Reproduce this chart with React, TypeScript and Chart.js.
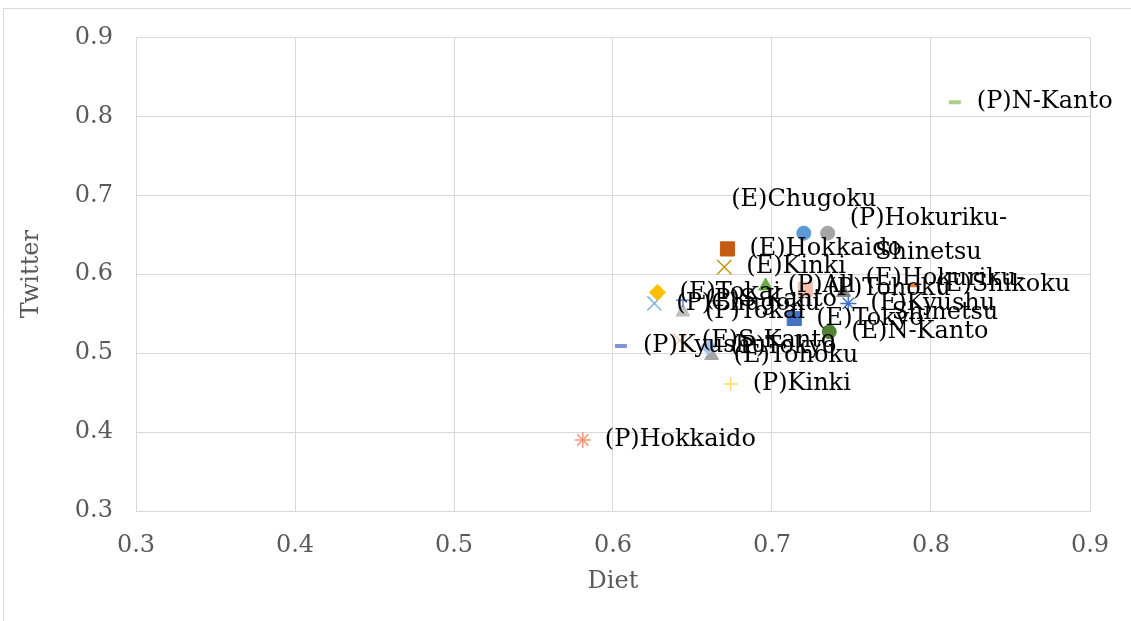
import React, { useEffect, useRef } from "react";
import { Chart, registerables } from "chart.js";

Chart.register(...registerables);

// ---- data ----
const pointNames = [
  "(P)N-Kanto",
  "(E)Chugoku",
  "(P)Hokuriku-Shinetsu",
  "(E)Hokkaido",
  "(E)Kinki",
  "(E)Tokai",
  "(P)Chugoku",
  "(P)S-Kanto",
  "(P)Tokai",
  "(P)All",
  "(P)Tohoku",
  "(E)Hokuriku-Shinetsu",
  "(E)Shikoku",
  "(E)Kyushu",
  "(E)Tokyo",
  "(E)N-Kanto",
  "(P)Kyushu",
  "(E)S-Kanto",
  "(P)Tokyo",
  "(E)Tohoku",
  "(P)Kinki",
  "(P)Hokkaido",
];

const dietValues = [
  0.815, 0.72, 0.735, 0.672, 0.67, 0.628, 0.626, 0.644, 0.644, 0.696, 0.721,
  0.745, 0.789, 0.748, 0.714, 0.736, 0.605, 0.642, 0.66, 0.662, 0.674, 0.581,
];

const twitterValues = [
  0.818, 0.652, 0.652, 0.632, 0.609, 0.577, 0.563, 0.567, 0.552, 0.585, 0.581,
  0.577, 0.586, 0.563, 0.544, 0.527, 0.509, 0.516, 0.508, 0.497, 0.461, 0.39,
];

const axisTicks = [0.3, 0.4, 0.5, 0.6, 0.7, 0.8, 0.9];

// ---- styles ----
const markerShapes = [
  "line", "circle", "circle", "rect", "crossRot", "rectRot", "crossRot", "cross",
  "triangle", "triangle", "rect", "triangle", "line", "star", "rect", "circle",
  "line", "crossRot", "rectRot", "triangle", "cross", "star",
];

const markerColors = [
  "#A9D18E", "#5B9BD5", "#A5A5A5", "#C55A11", "#C8960C", "#FFC000", "#7EB0E0",
  "#5B8BD0", "#BFBFBF", "#70AD47", "#F5C0AE", "#808080", "#ED7D31", "#4472C4",
  "#4472C4", "#548235", "#7F96D6", "#F8CBAD", "#A9C6E8", "#A5A5A5", "#FFD966",
  "#F19A74",
];

const labelPlacement = [
  "right", "above", "wrap", "right", "right", "right", "right", "right",
  "right", "right", "right", "wrap", "right", "right", "right", "right",
  "right", "right", "right", "right", "right", "right",
];

const FONT = "'DejaVu Serif', serif";
const FONT_SIZE = 24;

function markerRadius(shape: string) {
  switch (shape) {
    case "circle": return 7;
    case "rect": return 10;
    case "rectRot": return 8;
    case "triangle": return 8;
    case "crossRot": return 10;
    case "cross": return 7;
    case "star": return 8;
    case "line": return 6;
    default: return 7;
  }
}

const labelPlugin = {
  id: "pointNameLabels",
  afterDatasetsDraw(chart: any) {
    const ctx = chart.ctx;
    ctx.save();
    ctx.font = `${FONT_SIZE}px ${FONT}`;
    ctx.fillStyle = "#000000";
    ctx.textBaseline = "middle";
    chart.data.datasets.forEach((ds: any, i: number) => {
      const meta = chart.getDatasetMeta(i);
      const pt = meta.data[0];
      if (!pt) return;
      const text = pointNames[i];
      const place = labelPlacement[i];
      if (place === "above") {
        ctx.textAlign = "center";
        ctx.fillText(text, pt.x, pt.y - 33);
      } else if (place === "wrap") {
        const parts = text.split("-");
        const lines = [parts[0] + "-", parts.slice(1).join("-")];
        const w = Math.max(...lines.map((l) => ctx.measureText(l).width));
        const cx = pt.x + 22 + w / 2;
        ctx.textAlign = "center";
        ctx.fillText(lines[0], cx, pt.y - 14);
        ctx.fillText(lines[1], cx, pt.y + 20);
      } else {
        ctx.textAlign = "left";
        ctx.fillText(text, pt.x + 22, pt.y);
      }
    });
    ctx.restore();
  },
};

const framePlugin = {
  id: "outerFrame",
  beforeDraw(chart: any) {
    const ctx = chart.ctx;
    ctx.save();
    ctx.fillStyle = "#FFFFFF";
    ctx.fillRect(0, 0, chart.width, chart.height);
    ctx.strokeStyle = "#D9D9D9";
    ctx.lineWidth = 1;
    ctx.beginPath();
    ctx.moveTo(3.5, chart.height);
    ctx.lineTo(3.5, 8.5);
    ctx.lineTo(chart.width, 8.5);
    ctx.stroke();
    ctx.restore();
  },
};

export default function App() {
  const canvasRef = useRef<HTMLCanvasElement | null>(null);

  useEffect(() => {
    document.body.style.margin = "0";
    const canvas = canvasRef.current;
    if (!canvas) return;

    const datasets = pointNames.map((name, i) => {
      const shape = markerShapes[i];
      const stroked = shape === "line" || shape === "cross" || shape === "crossRot" || shape === "star";
      return {
        label: name,
        data: [{ x: dietValues[i], y: twitterValues[i] }],
        pointStyle: shape,
        pointRadius: markerRadius(shape),
        pointHoverRadius: markerRadius(shape),
        backgroundColor: markerColors[i],
        borderColor: markerColors[i],
        pointBorderWidth: shape === "line" ? 4 : stroked ? 1.5 : 1,
        showLine: false,
      };
    });

    const tickFont = { family: FONT, size: FONT_SIZE };

    const chart = new Chart(canvas, {
      type: "scatter",
      data: { datasets },
      options: {
        animation: false,
        responsive: false,
        devicePixelRatio: 1,
        layout: { padding: { top: 37, right: 41, left: 0, bottom: 0 } },
        plugins: {
          legend: { display: false },
          tooltip: { enabled: false },
        },
        scales: {
          x: {
            type: "linear",
            min: axisTicks[0],
            max: axisTicks[axisTicks.length - 1],
            afterBuildTicks: (scale: any) => {
              scale.ticks = axisTicks.map((v) => ({ value: v }));
            },
            afterFit: (scale: any) => {
              scale.height = 110;
            },
            ticks: {
              font: tickFont,
              color: "#595959",
              padding: 20,
              callback: (v: any) => Number(v).toFixed(1),
            },
            grid: { color: "#D9D9D9", lineWidth: 1, drawTicks: false },
            border: { color: "#D9D9D9" },
            title: {
              display: true,
              text: "Diet",
              font: tickFont,
              color: "#595959",
              padding: { top: 0, bottom: 25 },
            },
          },
          y: {
            type: "linear",
            min: axisTicks[0],
            max: axisTicks[axisTicks.length - 1],
            afterBuildTicks: (scale: any) => {
              scale.ticks = axisTicks.map((v) => ({ value: v }));
            },
            afterFit: (scale: any) => {
              scale.width = 136;
            },
            ticks: {
              font: tickFont,
              color: "#595959",
              padding: 23,
              callback: (v: any) => Number(v).toFixed(1),
            },
            grid: { color: "#D9D9D9", lineWidth: 1, drawTicks: false },
            border: { color: "#D9D9D9" },
            title: {
              display: true,
              text: "Twitter",
              font: tickFont,
              color: "#595959",
              padding: { top: 17, bottom: 0 },
            },
          },
        },
      },
      plugins: [framePlugin, labelPlugin],
    } as any);

    return () => {
      chart.destroy();
    };
  }, []);

  return (
    <canvas
      ref={canvasRef}
      width={1131}
      height={621}
      style={{ display: "block", width: 1131, height: 621 }}
    />
  );
}
